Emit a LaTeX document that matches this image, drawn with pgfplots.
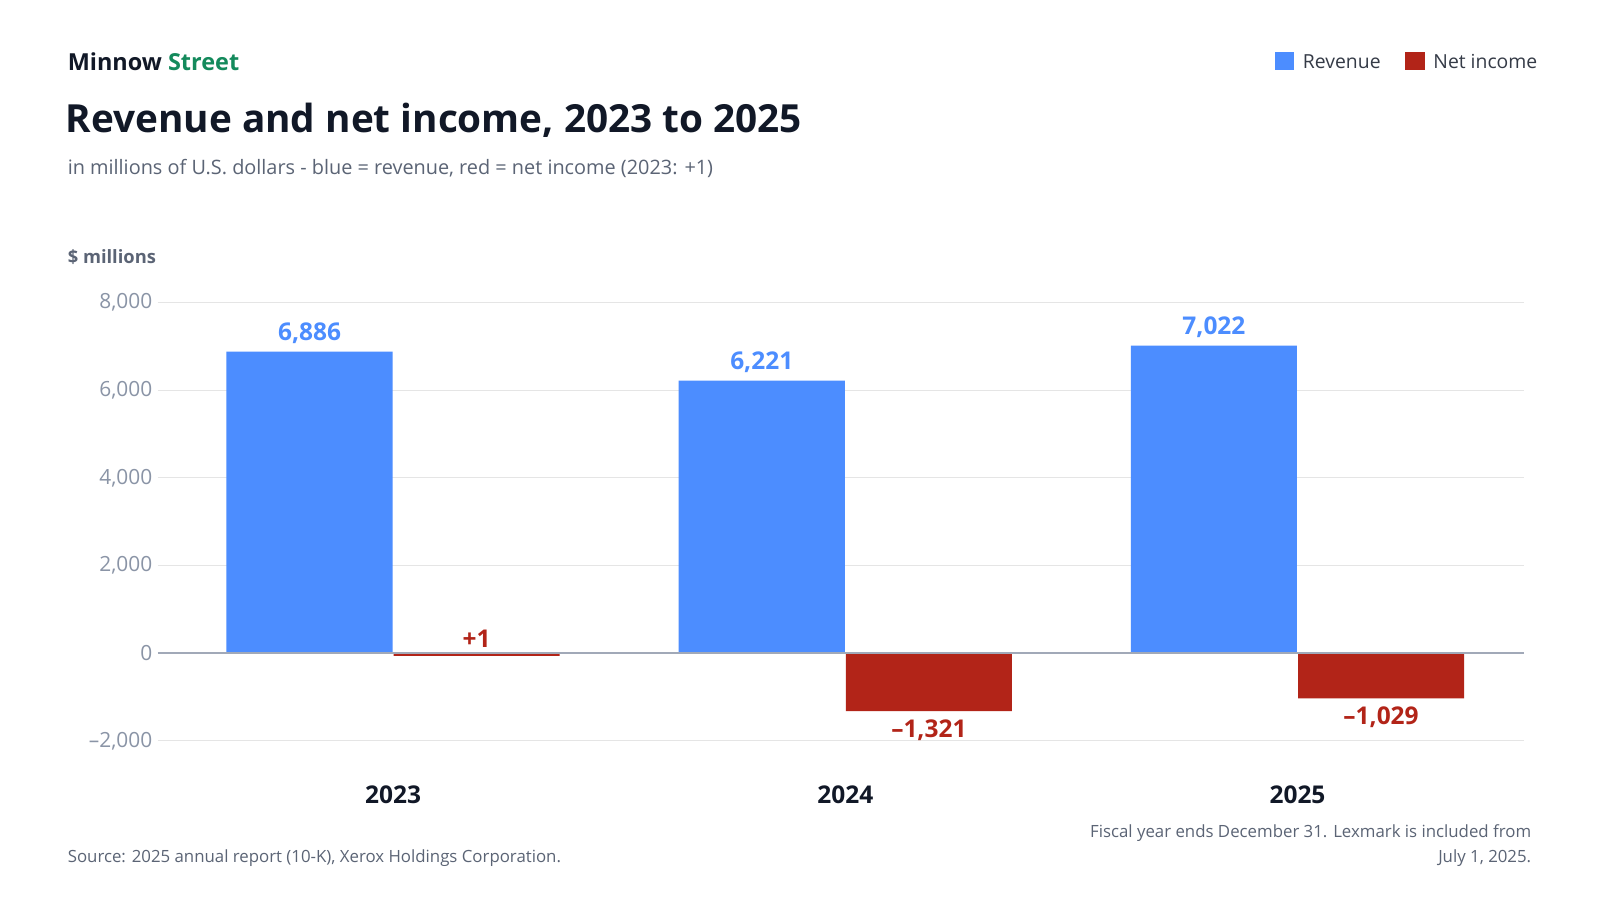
\documentclass[border=0pt]{standalone}
\usepackage{pgfplots}
\pgfplotsset{compat=1.18}
\usepackage{fontspec}
\setmainfont{Open Sans}
\definecolor{rev}{HTML}{4C8DFF}
\definecolor{ni}{HTML}{B22418}
\definecolor{ink}{HTML}{111827}
\definecolor{sub}{HTML}{5B6475}
\definecolor{tick}{HTML}{8A94A6}
\definecolor{grn}{HTML}{148A5C}
\begin{document}
\begin{tikzpicture}[x=1pt,y=1pt]
\path[fill=white] (0,0) rectangle (1570,-883);
\begin{axis}[at={(155pt,-739.9pt)},anchor=south west,scale only axis,
 width=1340pt,height=455.8pt,
 xmin=-0.52,xmax=2.5,ymin=-2300,ymax=8300,
 axis line style={draw=none},
 ybar,bar width=163pt,
 xtick={0,1,2},xticklabels={2023,2024,2025},
 ytick={-2000,0,2000,4000,6000,8000},
 yticklabels={{–2,000},{0},{2,000},{4,000},{6,000},{8,000}},
 tick style={draw=none},
 yticklabel style={font=\fontsize{20.5}{24}\selectfont,text=tick,xshift=-2pt},
 xticklabel style={font=\fontsize{24}{30}\selectfont\bfseries,text=ink,yshift=-23pt},
 clip=false,
]
\foreach \v in {-2000,2000,4000,6000,8000}{
 \edef\tmp{\noexpand\draw[draw=gray!20,line width=1pt] (axis cs:-0.52,\v) -- (axis cs:2.5,\v);}\tmp}
\addplot[fill=rev,draw=none,bar shift=-82pt,nodes near coords,point meta=explicit symbolic,
 every node near coord/.append style={font=\fontsize{24}{30}\selectfont\bfseries,text=rev,yshift=4pt}] coordinates {(0,6886)[6,886] (1,6221)[6,221] (2,7022)[7,022]};
\addplot[fill=ni,draw=none,bar shift=82pt] coordinates {(0,-60) (1,-1321) (2,-1029)};
\draw[draw=tick!80,line width=1.5pt] (axis cs:-0.52,0) -- (axis cs:2.5,0);
\node[font=\fontsize{24}{30}\selectfont\bfseries,text=ni,anchor=south,xshift=82pt,yshift=2pt] at (axis cs:0,0) {+1};
\node[font=\fontsize{24}{30}\selectfont\bfseries,text=ni,anchor=north,xshift=82pt,yshift=-5pt] at (axis cs:1,-1321) {–1,321};
\node[font=\fontsize{24}{30}\selectfont\bfseries,text=ni,anchor=north,xshift=82pt,yshift=-5pt] at (axis cs:2,-1029) {–1,029};
\end{axis}
\node[anchor=base west,font=\fontsize{23}{28}\selectfont\bfseries,text=ink] at (63,-69) {Minnow \textcolor{grn}{Street}};
\node[anchor=base west,font=\fontsize{38}{46}\selectfont\bfseries,text=ink] at (61,-130) {Revenue and net income, 2023 to 2025};
\node[anchor=base west,font=\fontsize{19.5}{24}\selectfont,text=sub] at (63,-171) {in millions of U.S. dollars - blue = revenue, red = net income (2023: +1)};
\node[anchor=base west,font=\fontsize{18}{22}\selectfont\bfseries,text=sub] at (63,-259) {\$ millions};
\fill[rev] (1251,-51) rectangle (1270,-69);
\node[anchor=base west,font=\fontsize{19}{23}\selectfont,text=ink!85] at (1275,-67) {Revenue};
\fill[ni] (1379,-51) rectangle (1398,-69);
\node[anchor=base west,font=\fontsize{19}{23}\selectfont,text=ink!85] at (1403,-67) {Net income};
\node[anchor=base west,font=\fontsize{16.5}{20}\selectfont,text=sub] at (63,-846) {Source: 2025 annual report (10-K), Xerox Holdings Corporation.};
\node[anchor=base east,align=right,font=\fontsize{16.5}{24}\selectfont,text=sub] at (1506,-846) {Fiscal year ends December 31. Lexmark is included from\\July 1, 2025.};
\pgfresetboundingbox
\path (0,0) rectangle (1570,-883);
\end{tikzpicture}
\end{document}
